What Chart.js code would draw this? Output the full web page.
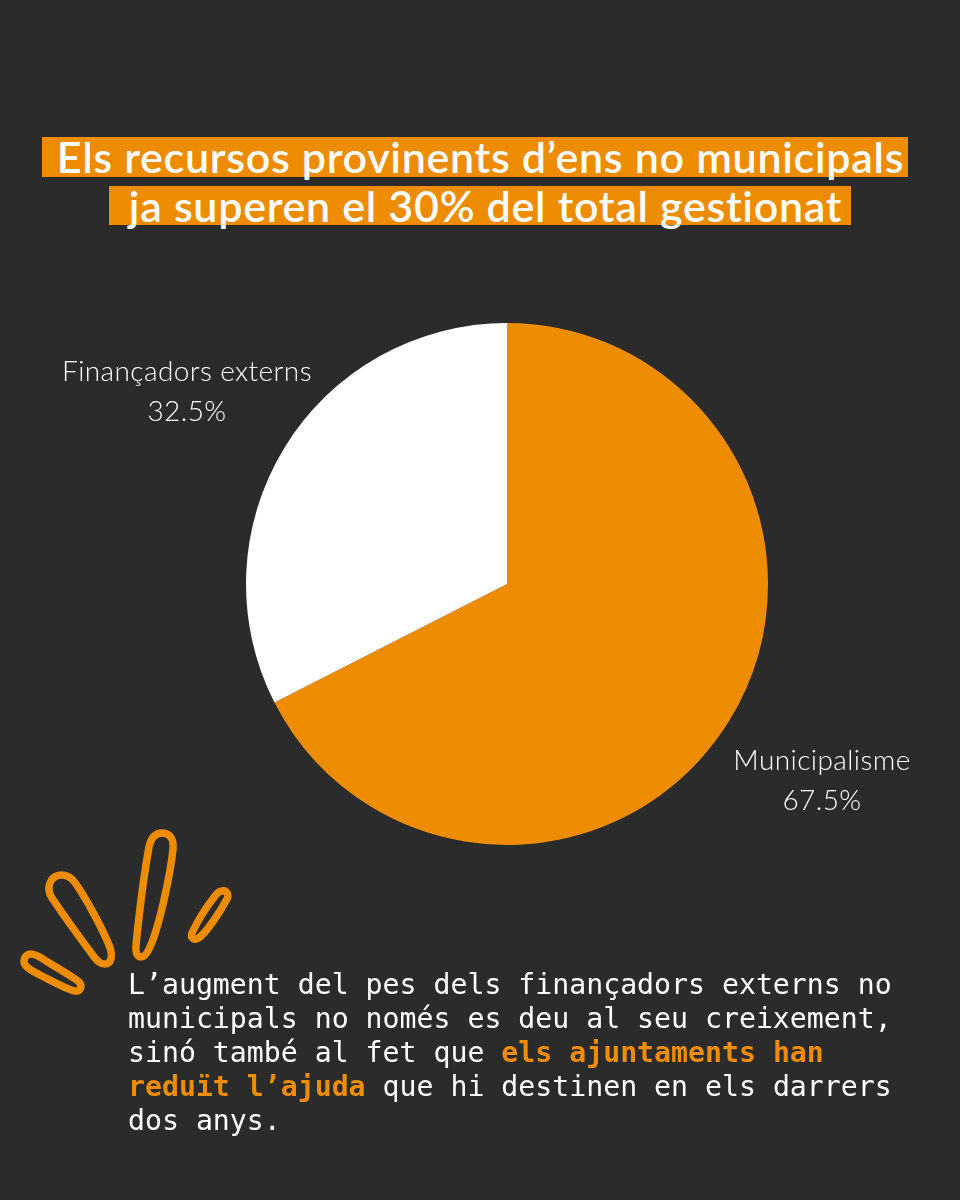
<!DOCTYPE html>
<html>
<head>
<meta charset="utf-8">
<script src="https://cdn.jsdelivr.net/npm/chart.js@4"></script>
<style>
  html, body { margin: 0; padding: 0; }
  body { width: 960px; height: 1200px; background: #2b2b2b; position: relative; overflow: hidden; color: #fff; font-variant-ligatures: none; }
  .bar { position: absolute; box-sizing: border-box; padding-left: 11px; background: #ee8c00; font: 600 43px/40px Lato, sans-serif; letter-spacing: 0.7px; text-align: center; white-space: nowrap; }
  #bar1 { left: 42px; top: 137px; width: 866px; height: 40px; }
  #bar2 { left: 109px; top: 186px; width: 742px; height: 39px; }
  #pieWrap { position: absolute; left: 246px; top: 323px; width: 522px; height: 522px; }
  .pieLabel { position: absolute; font: 300 28px/40px Lato, sans-serif; letter-spacing: 0.4px; text-align: center; white-space: nowrap; transform: translateX(-50%); }
  #label0 { left: 822px; top: 739px; }
  #label1 { left: 187px; top: 350px; }
  #note { position: absolute; left: 128px; top: 968px; font: 400 28.2px/34px "DejaVu Sans Mono", monospace; white-space: nowrap; }
  #note b { color: #ee8c00; }
  #doodles { position: absolute; left: 0; top: 810px; }
</style>
</head>
<body>
<div class="bar" id="bar1">Els recursos provinents d’ens no municipals</div>
<div class="bar" id="bar2">ja superen el 30% del total gestionat</div>

<div id="pieWrap"><canvas id="pieChart" width="522" height="522"></canvas></div>
<div class="pieLabel" id="label0"></div>
<div class="pieLabel" id="label1"></div>

<svg id="doodles" width="260" height="200" viewBox="0 810 260 200" fill="none" stroke="#ee8c00" stroke-width="7.5">
  <path d="M149 847 C151 838 155 833 162 833 C170 833 174 839 173 849 C171 870 160 925 150 947 C147 954 144 957 141 957 C137 957 135 952 136 945 C138 925 144 875 149 847 Z"/>
  <path d="M62 875 C68 875 72 878 76 884 C87 900 102 928 109 945 C113 954 112 964 105 964 C100 964 97 961 92 954 C80 938 62 913 52 898 C46 889 49 875 62 875 Z"/>
  <path d="M222 891 C227 890 229 895 227 899 C220 912 208 930 200 937 C195 941 190 939 192 933 C197 922 208 905 215 896 C218 892 220 891 222 891 Z"/>
  <path d="M31 954 C36 954 40 957 46 961 C56 967 70 975 78 981 C83 985 81 992 75 991 C68 990 50 980 40 975 C33 971 25 968 24 962 C24 957 27 954 31 954 Z"/>
</svg>

<div id="note">L’augment del pes dels finançadors externs no<br>municipals no només es deu al seu creixement,<br>sinó també al fet que <b>els ajuntaments han</b><br><b>reduït l’ajuda</b> que hi destinen en els darrers<br>dos anys.</div>

<script>
const categories = ['Municipalisme', 'Finançadors externs'];
const shares = [67.5, 32.5];
const sliceColors = ['#ee8c00', '#ffffff'];

categories.forEach((name, i) => {
    document.getElementById('label' + i).innerHTML = name + '<br>' + shares[i] + '%';
});

const ctxPie = document.getElementById('pieChart').getContext('2d');
const pieChart = new Chart(ctxPie, {
    type: 'pie',
    data: {
        labels: categories,
        datasets: [{
            data: shares,
            backgroundColor: sliceColors,
            borderWidth: 0
        }]
    },
    options: {
        responsive: false,
        animation: false,
        plugins: {
            legend: { display: false },
            tooltip: { enabled: false }
        }
    }
});
</script>
</body>
</html>
